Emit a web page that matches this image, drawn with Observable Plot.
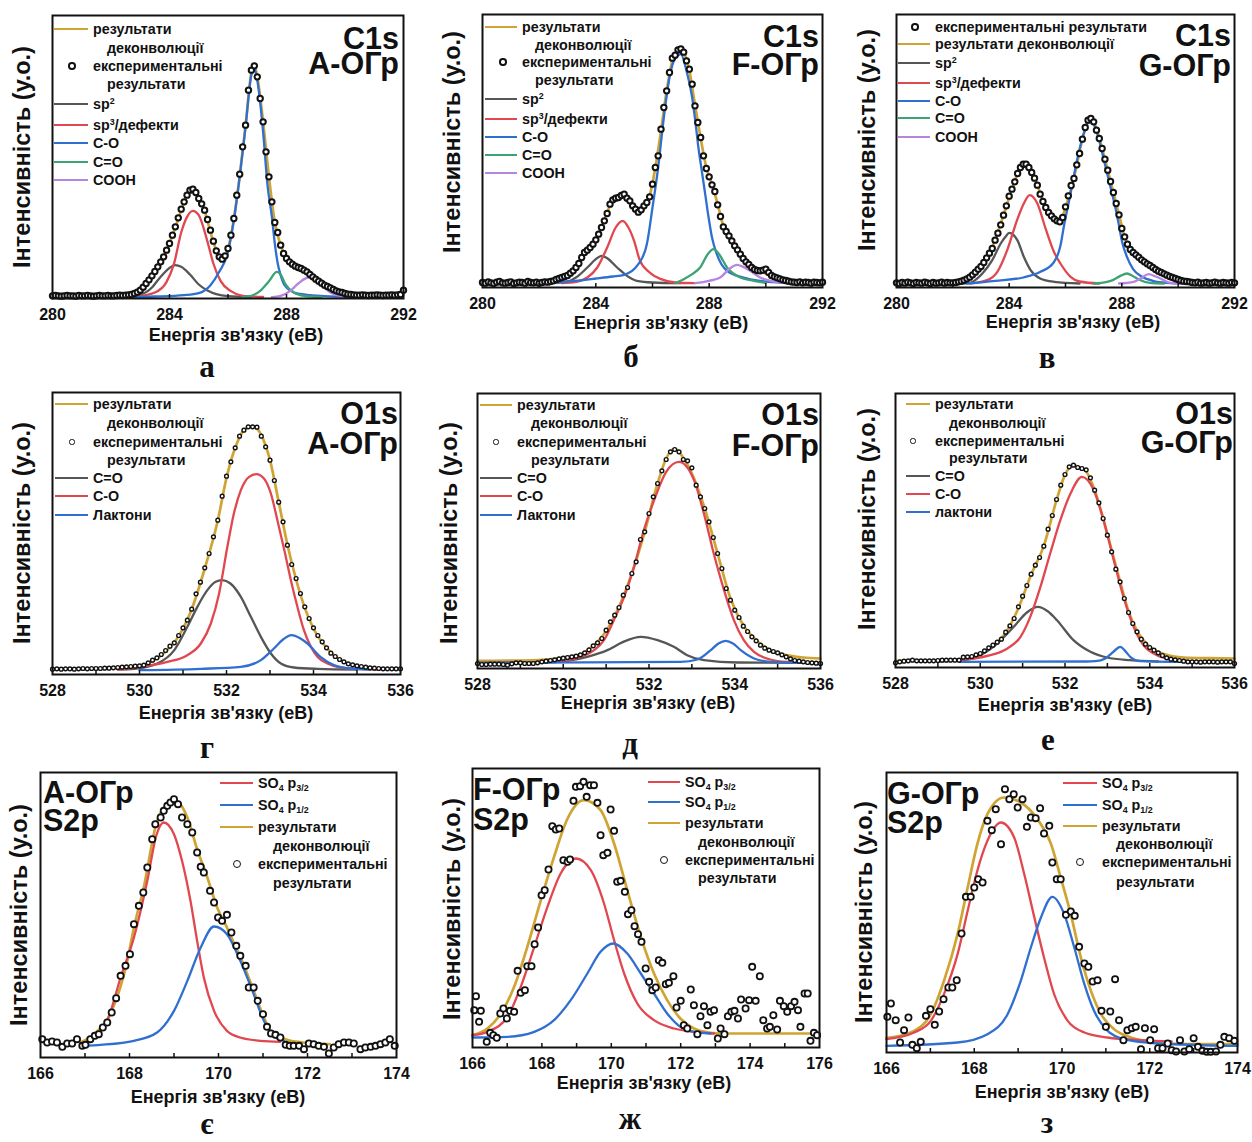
<!DOCTYPE html>
<html><head><meta charset="utf-8">
<script src="https://cdn.jsdelivr.net/npm/d3@7"></script>
<script src="https://cdn.jsdelivr.net/npm/@observablehq/plot@0.6"></script>
<style>
body{margin:0;background:#fff;}
#root{position:relative;width:1252px;height:1142px;overflow:hidden;font-family:"Liberation Sans",Arial,sans-serif;font-weight:bold;color:#111;}
.t{position:absolute;white-space:nowrap;line-height:1;}
.sup{font-size:0.62em;position:relative;top:-0.55em;}
.sub{font-size:0.62em;position:relative;top:0.3em;}
svg{overflow:visible;}
</style></head><body><div id="root"></div><script>
// ---------- DATA (intensities in arbitrary units, energies in eV) ----------
const c1sTicks = [280, 284, 288, 292];
const o1sTicks = [528, 530, 532, 534, 536];
const s2pTicksA = [166, 168, 170, 172, 174];
const s2pTicksF = [166, 168, 170, 172, 174, 176];
const c1sMinor = [282, 284, 286, 288, 290];
const o1sMinor = [529, 530, 531, 532, 533, 534, 535];
const s2pMinorA = [167, 168, 169, 170, 171, 172, 173];
const s2pMinorF = [167, 168, 169, 170, 171, 172, 173, 174, 175];

const c1sEnergy = [280,280.1,280.2,280.3,280.4,280.5,280.6,280.7,280.8,280.9,
281,281.1,281.2,281.3,281.4,281.5,281.6,281.7,281.8,281.9,
282,282.1,282.2,282.3,282.4,282.5,282.6,282.7,282.8,282.9,
283,283.1,283.2,283.3,283.4,283.5,283.6,283.7,283.8,283.9,
284,284.1,284.2,284.3,284.4,284.5,284.6,284.7,284.8,284.9,
285,285.1,285.2,285.3,285.4,285.5,285.6,285.7,285.8,285.9,
286,286.1,286.2,286.3,286.4,286.5,286.6,286.7,286.8,286.9,
287,287.1,287.2,287.3,287.4,287.5,287.6,287.7,287.8,287.9,
288,288.1,288.2,288.3,288.4,288.5,288.6,288.7,288.8,288.9,
289,289.1,289.2,289.3,289.4,289.5,289.6,289.7,289.8,289.9,
290,290.1,290.2,290.3,290.4,290.5,290.6,290.7,290.8,290.9,
291,291.1,291.2,291.3,291.4,291.5,291.6,291.7,291.8,291.9,292];

const o1sEnergy = [528,528.1,528.2,528.3,528.4,528.5,528.6,528.7,528.8,528.9,
529,529.1,529.2,529.3,529.4,529.5,529.6,529.7,529.8,529.9,
530,530.1,530.2,530.3,530.4,530.5,530.6,530.7,530.8,530.9,
531,531.1,531.2,531.3,531.4,531.5,531.6,531.7,531.8,531.9,
532,532.1,532.2,532.3,532.4,532.5,532.6,532.7,532.8,532.9,
533,533.1,533.2,533.3,533.4,533.5,533.6,533.7,533.8,533.9,
534,534.1,534.2,534.3,534.4,534.5,534.6,534.7,534.8,534.9,
535,535.1,535.2,535.3,535.4,535.5,535.6,535.7,535.8,535.9,536];

// C1s experimental
const expA_C1s = [8,9,8,7,8,9,8,8,7,9,8,8,9,8,7,8,9,8,8,9,8,8,9,10,9,10,
11,12,15,19,25,34,45,56,68,81,95,110,125,145,
165,190,215,242,268,290,310,325,328,318,
300,284,265,237,205,172,143,125,118,128,
150,190,240,310,373,455,520,625,685,698,
665,600,530,440,365,290,228,198,160,135,
120,110,103,97,93,90,85,80,72,65,
58,52,46,40,36,32,27,23,20,18,
15,13,12,11,10,10,11,10,9,10,10,11,10,9,10,10,11,10,11,12,25];
const expF_C1s = [15,13,17,14,12,16,18,14,13,15,17,12,14,16,15,13,18,15,14,16,13,15,17,16,18,20,
24,27,30,33,36,43,50,60,72,90,105,112,120,130,
143,160,180,200,222,250,263,268,270,276,
280,268,260,245,235,226,233,245,255,272,
310,360,395,475,540,590,645,688,697,713,
716,706,680,655,610,545,495,450,395,357,
332,308,288,248,213,182,168,155,140,125,
113,100,87,77,69,60,54,51,50,52,
55,45,36,32,29,26,23,21,19,17,16,15,17,14,16,15,13,16,15,14,16];
const expG_C1s = [14,12,15,13,16,14,12,15,14,13,16,14,12,15,13,14,16,13,15,14,
14,15,17,19,22,26,31,38,46,55,
63,75,89,103,117,142,163,188,217,245,
274,295,317,342,360,370,370,360,345,328,
307,280,258,240,225,215,206,200,197,210,
242,275,306,327,368,402,445,480,502,507,
497,472,447,417,385,352,318,285,252,218,
177,152,130,114,105,98,91,83,77,71,
66,60,54,49,45,41,37,33,30,27,
24,21,19,18,17,15,14,16,13,14,15,13,14,16,14,13,15,14,13,15,14];

// C1s fitted curves [energy, intensity]
const envA_C1s = [[280,7],[282.5,8],[282.8,14],[283.0,24],[283.3,54],[283.6,93],[283.9,143],[284.2,213],[284.5,288],[284.7,322],[284.8,325],[284.95,312],[285.2,262],[285.5,170],[285.7,125],[285.85,117],[286.0,148],[286.2,238],[286.4,368],[286.6,518],[286.8,678],[286.9,700],[287.0,665],[287.2,530],[287.4,365],[287.6,228],[287.8,160],[288.0,120],[288.3,97],[288.6,85],[288.9,65],[289.2,46],[289.5,32],[289.8,20],[290.2,12],[292,9]];
const sp2A_C1s = [[282.4,5],[283.0,12],[283.4,33],[283.6,55],[283.8,75],[284.0,92],[284.2,100],[284.4,95],[284.7,72],[285.0,42],[285.3,24],[285.6,13],[286.0,7],[286.8,5]];
const sp3A_C1s = [[282.8,5],[283.5,18],[283.9,50],[284.15,103],[284.4,198],[284.6,245],[284.8,263],[285.0,250],[285.3,170],[285.5,105],[285.75,52],[286.1,22],[286.5,8],[287.2,5]];
const coA_C1s = [[282.5,4],[283.5,6],[284.5,10],[285.0,16],[285.4,40],[285.7,80],[286.0,140],[286.2,235],[286.4,365],[286.6,515],[286.8,672],[286.9,692],[287.0,655],[287.2,500],[287.35,340],[287.5,245],[287.6,165],[287.7,105],[287.8,70],[287.9,45],[288.0,33],[288.25,18],[288.7,11],[289.3,7],[290.3,4]];
const cdoA_C1s = [[286.5,4],[286.8,8],[287.1,23],[287.4,52],[287.67,80],[287.8,72],[287.96,43],[288.25,18],[288.6,8],[289.2,4]];
const coohA_C1s = [[287.5,4],[287.8,8],[288.13,23],[288.4,45],[288.76,63],[289.0,55],[289.16,43],[289.5,18],[289.84,8],[290.3,4]];

const envF_C1s = [[280,15],[282.5,20],[283.0,36],[283.3,60],[283.6,100],[283.9,132],[284.2,180],[284.5,245],[284.8,272],[285.0,278],[285.2,262],[285.5,228],[285.7,243],[285.9,275],[286.1,360],[286.3,470],[286.5,590],[286.7,680],[286.9,712],[287.0,716],[287.1,706],[287.3,650],[287.5,548],[287.7,448],[287.9,360],[288.1,310],[288.3,250],[288.5,185],[288.8,142],[289.1,102],[289.4,70],[289.7,52],[290.0,42],[290.4,28],[290.8,19],[292,15]];
const sp2F_C1s = [[282.3,13],[283.0,18],[283.3,30],[283.7,60],[284.0,85],[284.2,95],[284.4,88],[284.75,60],[285.1,35],[285.45,20],[286.0,15],[287.0,13]];
const sp3F_C1s = [[282.8,13],[283.3,17],[283.7,30],[284.05,60],[284.4,120],[284.7,180],[284.95,200],[285.15,180],[285.35,140],[285.55,82],[285.9,45],[286.3,25],[286.8,15],[287.5,13]];
const coF_C1s = [[282.0,12],[283.0,18],[284.0,27],[284.6,33],[285.0,38],[285.5,70],[285.8,130],[286.0,240],[286.2,360],[286.4,510],[286.6,630],[286.8,688],[287.0,700],[287.2,650],[287.4,570],[287.51,500],[287.62,420],[287.74,350],[287.86,280],[287.98,210],[288.1,150],[288.27,100],[288.63,50],[289.21,30],[289.8,20],[290.5,15],[291.0,13]];
const cdoF_C1s = [[286.8,13],[287.1,25],[287.4,40],[287.68,60],[287.95,100],[288.15,115],[288.35,100],[288.63,60],[289.1,30],[289.57,20],[290.0,14]];
const coohF_C1s = [[287.5,13],[288.0,20],[288.39,30],[288.7,55],[288.98,68],[289.2,62],[289.45,50],[289.8,30],[290.15,20],[290.6,14]];

const envG_C1s = [[280,14],[282.0,15],[282.5,26],[282.9,55],[283.2,89],[283.5,142],[283.8,217],[284.1,295],[284.4,360],[284.55,371],[284.7,360],[285.0,307],[285.3,240],[285.6,206],[285.8,198],[286.0,240],[286.3,330],[286.6,445],[286.8,502],[286.9,507],[287.0,497],[287.3,417],[287.6,318],[287.9,218],[288.1,152],[288.3,114],[288.6,91],[289.0,66],[289.4,45],[289.8,30],[290.2,19],[290.6,14],[292,14]];
const sp2G_C1s = [[282.3,12],[282.6,14],[283.05,42],[283.4,82],[283.7,132],[283.87,152],[284.0,164],[284.15,158],[284.29,142],[284.52,92],[284.76,52],[285.1,27],[285.6,17],[286.5,12]];
const sp3G_C1s = [[282.6,12],[283.22,22],[283.58,47],[283.93,112],[284.28,202],[284.52,252],[284.73,277],[285.0,252],[285.3,175],[285.6,105],[285.82,72],[286.18,32],[286.5,18],[287.2,12]];
const coG_C1s = [[282.5,12],[283.5,20],[284.5,30],[285.11,47],[285.58,75],[285.82,125],[285.94,182],[286.18,282],[286.41,382],[286.65,462],[286.88,502],[287.0,490],[287.2,440],[287.4,370],[287.6,300],[287.8,228],[287.9,185],[288.0,140],[288.2,88],[288.4,55],[288.7,33],[289.1,20],[289.6,14],[290.3,12]];
const cdoG_C1s = [[287.0,12],[287.47,17],[287.7,23],[287.95,35],[288.18,42],[288.4,34],[288.6,24],[289.0,14],[289.5,12]];
const coohG_C1s = [[287.9,12],[288.42,17],[288.66,27],[288.95,40],[289.2,33],[289.37,27],[289.72,14],[290.2,12]];

// O1s experimental
const expA_O1s = [16,17,16,17,17,16,17,18,17,18,
18,18,19,19,20,21,22,23,24,25,
26,28,35,43,50,60,72,85,95,117,
140,163,196,242,277,320,363,413,463,535,
595,638,680,715,733,743,743,742,715,683,
643,582,517,458,388,330,288,243,203,168,
140,117,98,80,64,54,45,38,32,29,
26,24,22,20,19,18,17,17,17,17,17];
const expF_O1s = [15,12,12,13,13,13,12,10,14,17,
17,15,15,15,17,20,22,24,26,29,
31,33,35,37,41,47,56,68,77,90,
115,140,160,183,220,243,285,320,387,410,
465,515,555,593,627,650,657,650,627,623,
602,550,515,480,440,393,345,300,240,205,
175,153,127,111,95,83,70,61,55,51,
47,41,35,29,24,22,20,18,17,16,15];
const expG_O1s = [14,17,19,20,22,20,20,20,20,20,
21,22,22,22,22,22,31,32,33,38,
42,50,59,67,76,85,106,125,147,182,
214,246,280,307,330,364,415,456,504,547,
579,602,607,600,597,593,569,532,494,447,
397,347,295,257,207,165,132,107,85,70,
60,52,44,36,29,25,23,21,19,17,
17,17,16,17,17,17,16,17,17,17,12];

// O1s fitted curves
const envA_O1s = [[528,17],[529.5,21],[530.0,26],[530.3,40],[530.6,68],[530.9,115],[531.2,196],[531.5,318],[531.8,462],[532.0,590],[532.2,680],[532.4,733],[532.6,745],[532.8,718],[533.0,643],[533.2,518],[533.4,390],[533.6,285],[533.8,200],[534.0,138],[534.3,80],[534.6,45],[535.0,26],[535.5,18],[536,17]];
const cdoA_O1s = [[529.5,15],[529.88,17],[530.41,33],[530.8,73],[531.1,143],[531.33,203],[531.56,253],[531.75,278],[531.9,283],[532.09,273],[532.33,233],[532.56,173],[532.79,113],[533.02,63],[533.25,33],[533.55,21],[534.09,17],[535,15]];
const coA_O1s = [[529.5,15],[530.03,23],[530.64,38],[531.1,58],[531.41,93],[531.64,153],[531.83,243],[532.02,383],[532.17,483],[532.33,553],[532.52,593],[532.69,601],[532.86,588],[533.02,543],[533.17,463],[533.33,373],[533.48,283],[533.63,203],[533.78,133],[533.94,83],[534.09,53],[534.32,33],[534.62,21],[535.0,17],[535.5,15]];
const lacA_O1s = [[530.0,13],[531.41,17],[532.33,23],[532.79,43],[533.09,78],[533.3,105],[533.49,118],[533.7,108],[533.86,93],[534.16,53],[534.47,28],[534.85,18],[535.3,15]];

const envF_O1s = [[528,23],[529,24],[529.5,26],[530.0,33],[530.4,42],[530.7,68],[531.0,112],[531.3,185],[531.6,285],[531.9,410],[532.2,555],[532.4,630],[532.6,660],[532.8,632],[533.0,585],[533.3,480],[533.6,345],[533.9,210],[534.2,130],[534.5,85],[534.8,57],[535.2,40],[535.6,33],[536,30]];
const cdoF_O1s = [[528,17],[529.5,18],[530.1,23],[530.56,35],[531.03,55],[531.4,80],[531.81,95],[532.2,85],[532.58,65],[532.89,40],[533.28,25],[534.06,18],[536,17]];
const coF_O1s = [[528,17],[529.5,19],[530.02,23],[530.41,35],[530.72,55],[530.95,85],[531.18,145],[531.42,215],[531.65,305],[531.88,415],[532.12,505],[532.4,590],[532.7,620],[533.05,565],[533.28,465],[533.51,345],[533.75,235],[533.98,145],[534.21,85],[534.45,50],[534.83,27],[535.22,20],[536,17]];
const lacF_O1s = [[528,17],[532.74,20],[533.13,27],[533.44,55],[533.62,75],[533.79,83],[533.96,75],[534.14,55],[534.45,30],[534.83,20],[535.5,17]];

const envG_O1s = [[528,20],[529,21],[529.5,24],[530.0,40],[530.3,65],[530.6,104],[530.9,178],[531.2,278],[531.5,365],[531.8,502],[532.0,578],[532.2,607],[532.35,600],[532.5,588],[532.7,532],[533.0,400],[533.3,258],[533.5,168],[533.7,110],[534.0,62],[534.4,38],[534.8,30],[535.4,28],[536,27]];
const cdoG_O1s = [[529.0,18],[529.61,22],[530.0,37],[530.4,72],[530.79,122],[531.1,165],[531.36,182],[531.6,168],[531.81,142],[532.2,82],[532.6,47],[532.99,30],[533.54,22],[534.2,18]];
const coG_O1s = [[529.0,20],[529.85,27],[530.24,37],[530.64,57],[530.95,92],[531.18,152],[531.42,242],[531.65,342],[531.89,442],[532.13,522],[532.4,572],[532.68,532],[532.91,442],[533.15,322],[533.38,212],[533.62,122],[533.85,67],[534.17,37],[534.56,24],[534.95,19],[535.5,17]];
const lacG_O1s = [[529.5,17],[532.5,18],[532.72,19],[532.95,27],[533.15,48],[533.3,62],[533.45,45],[533.54,32],[533.78,19],[534.5,17],[536,17]];

// S2p experimental
const expA_S2p_x = [166.04,166.15,166.26,166.37,166.49,166.6,166.71,166.82,166.94,167.01,
167.12,167.22,167.31,167.4,167.5,167.6,167.7,167.8,167.91,168.01,
168.1,168.21,168.31,168.4,168.51,168.58,168.7,168.77,168.85,168.92,
169.0,169.09,169.18,169.3,169.41,169.52,169.6,169.67,169.81,169.9,
169.99,170.08,170.19,170.29,170.4,170.49,170.61,170.68,170.79,170.88,
171.0,171.09,171.18,171.28,171.39,171.51,171.6,171.69,171.81,171.92,
172.03,172.14,172.25,172.37,172.48,172.59,172.7,172.82,172.93,
173.04,173.19,173.3,173.42,173.53,173.64,173.75,173.85,173.96];
const expA_S2p_y = [55,45,48,45,32,42,42,55,35,38,
55,65,70,90,105,135,178,245,275,310,
400,455,495,570,655,700,720,740,755,765,
775,760,720,700,675,615,572,555,500,465,
420,410,428,375,335,305,275,210,210,170,
130,92,72,68,60,38,35,35,35,25,
42,40,35,32,12,30,40,45,45,
42,25,30,32,35,40,45,55,35];
const expF_S2p_x = [166.05,166.1,166.19,166.24,166.41,166.51,166.6,166.7,166.8,166.89,
166.99,167.08,167.2,167.3,167.39,167.51,167.58,167.7,167.79,167.89,
167.99,168.08,168.19,168.3,168.4,168.5,168.62,168.74,168.81,168.91,
168.98,169.1,169.2,169.29,169.39,169.5,169.6,169.69,169.77,169.89,
169.98,170.08,170.17,170.27,170.39,170.48,170.58,170.67,170.77,170.87,
170.99,171.09,171.18,171.28,171.37,171.47,171.57,171.66,171.79,171.88,
172.0,172.09,172.19,172.29,172.38,172.48,172.57,172.67,172.77,172.86,
172.96,173.07,173.15,173.26,173.36,173.46,173.55,173.65,173.74,173.87,
173.97,174.06,174.16,174.28,174.38,174.49,174.57,174.67,174.78,174.86,
174.97,175.07,175.18,175.28,175.38,175.45,175.57,175.66,175.74,175.84,175.93];
const expF_S2p_y = [112,154,77,110,17,44,37,29,102,117,
87,110,107,230,164,172,244,244,310,360,
457,472,534,664,654,657,562,557,564,740,
782,784,797,752,787,787,734,637,577,584,
714,650,497,500,467,400,412,364,340,317,
237,197,172,180,262,254,190,194,214,120,
140,67,57,174,127,40,94,124,67,107,
112,27,57,40,94,107,110,87,144,117,
142,242,140,214,82,57,62,97,54,140,
124,107,124,137,112,62,162,162,20,44,37];
const expG_S2p_x = [166.02,166.1,166.21,166.31,166.4,166.5,166.59,166.69,166.78,166.9,
167.0,167.1,167.2,167.3,167.41,167.5,167.6,167.71,167.81,167.92,
168.0,168.09,168.19,168.3,168.4,168.49,168.61,168.7,168.8,168.9,
168.99,169.1,169.2,169.29,169.4,169.5,169.59,169.71,169.78,169.88,
169.97,170.09,170.2,170.29,170.39,170.51,170.6,170.7,170.81,170.9,
171.0,171.1,171.21,171.3,171.4,171.49,171.59,171.68,171.8,171.89,
172.01,172.1,172.19,172.29,172.41,172.5,172.6,172.69,172.79,172.9,
173.0,173.1,173.2,173.3,173.39,173.51,173.61,173.7,173.81,173.93];
const expG_S2p_y = [107,147,97,30,67,105,23,13,32,110,
130,83,123,160,195,195,217,357,467,467,
495,520,510,695,667,730,625,790,760,775,
735,760,677,705,703,733,657,680,570,520,
520,413,423,410,317,267,257,213,217,125,
77,123,220,97,37,67,73,77,10,73,
37,70,13,13,27,7,3,37,3,10,
43,17,5,2,2,3,23,47,43,35];

// S2p fitted curves
const envA_S2p = [[166.9,45],[167.2,70],[167.6,140],[167.95,290],[168.1,390],[168.32,510],[168.62,710],[168.9,765],[169.05,770],[169.3,720],[169.52,625],[169.75,540],[169.97,450],[170.19,390],[170.34,345],[170.56,280],[170.79,200],[171.02,120],[171.17,80],[171.5,55],[171.9,45],[172.2,42],[172.5,40]];
const p32A_S2p = [[166.97,42],[167.2,60],[167.5,110],[167.8,240],[168.1,360],[168.4,530],[168.6,665],[168.77,705],[169.0,670],[169.18,590],[169.37,470],[169.52,350],[169.67,240],[169.9,140],[170.19,80],[170.49,60],[170.94,50],[171.39,47]];
const p12A_S2p = [[166.97,35],[167.35,38],[168.1,50],[168.62,75],[169.0,140],[169.3,230],[169.6,330],[169.9,393],[170.19,370],[170.49,290],[170.79,190],[171.02,110],[171.24,65],[171.47,50]];

const envF_S2p = [[166,37],[166.43,57],[166.82,102],[167.2,182],[167.58,302],[167.97,442],[168.35,572],[168.74,687],[169.21,742],[169.69,712],[170.08,612],[170.46,472],[170.85,332],[171.23,222],[171.61,142],[171.99,87],[172.38,57],[172.86,44],[173.15,42],[176,42]];
const p32F_S2p = [[166,37],[166.43,47],[167.01,92],[167.39,182],[167.78,302],[168.16,422],[168.54,522],[168.98,567],[169.41,532],[169.79,432],[170.08,322],[170.37,222],[170.75,132],[171.23,82],[171.81,57],[172.38,47],[172.96,42]];
const p12F_S2p = [[166,30],[167.01,32],[167.78,47],[168.35,82],[168.83,142],[169.31,222],[169.69,287],[170.06,312],[170.46,282],[170.85,222],[171.23,162],[171.61,102],[171.99,62],[172.38,47],[172.86,42]];

const envG_S2p = [[166,43],[166.63,65],[167.01,115],[167.31,215],[167.62,355],[167.85,495],[168.07,625],[168.3,715],[168.68,765],[169.06,750],[169.44,700],[169.75,625],[169.97,525],[170.2,415],[170.43,285],[170.66,185],[170.89,115],[171.19,70],[171.57,45],[172.18,30],[172.94,25],[174,25]];
const p32G_S2p = [[166,40],[166.63,60],[167.01,95],[167.31,175],[167.62,295],[167.85,425],[168.07,545],[168.3,635],[168.61,690],[168.91,645],[169.14,535],[169.37,405],[169.59,285],[169.82,175],[170.13,95],[170.51,60],[171.04,45],[171.8,37],[172.5,33]];
const p12G_S2p = [[166,20],[167.62,30],[168.3,55],[168.76,115],[169.06,215],[169.29,315],[169.52,405],[169.78,467],[170.05,415],[170.28,315],[170.51,205],[170.73,125],[171.04,65],[171.42,40],[172.18,27],[174,20]];

// Text labels
const yLabel = "Інтенсивність (у.о.)";
const xLabel = "Енергія зв'язку (еВ)";
const panelLetters = ["а","б","в","г","д","е","є","ж","з"];

// ---------- STYLE ----------
const GOLD="#cfa432", GRAY="#565656", RED="#e0474f", BLUE="#2f6fd0", GREEN="#3ca374", PURPLE="#b685e2";
const root = document.getElementById("root");
const FONT = '"Liberation Sans", Arial, sans-serif';

function txt(html, x, y, size, o = {}) {
  const d = document.createElement("div");
  d.className = "t";
  if (o.pre) { d.style.whiteSpace = "pre"; d.textContent = html; }
  else d.innerHTML = html;
  d.style.left = x + "px"; d.style.top = y + "px";
  d.style.fontSize = size + "px";
  if (o.lh) d.style.lineHeight = o.lh;
  if (o.align) d.style.textAlign = o.align;
  if (o.serif) d.style.fontFamily = '"Liberation Serif","Times New Roman",serif';
  const ax = o.anchor === "middle" ? "-50%" : o.anchor === "end" ? "-100%" : "0";
  d.style.transform = `translate(${ax},-50%)` + (o.rotate ? " rotate(-90deg)" : "");
  root.appendChild(d);
}
function swatch(x1, x2, y, color) {
  const d = document.createElement("div");
  d.style.cssText = `position:absolute;left:${x1}px;top:${y-1.3}px;width:${x2-x1}px;height:2.6px;background:${color}`;
  root.appendChild(d);
}
function marker(cx, cy, r, sw) {
  const o = r + sw/2;
  const d = document.createElement("div");
  d.style.cssText = `position:absolute;box-sizing:border-box;left:${cx-o}px;top:${cy-o}px;width:${2*o}px;height:${2*o}px;border:${sw}px solid #111;border-radius:50%;background:#fff`;
  root.appendChild(d);
}

function panel(p) {
  const mL = 26, mR = 26, mT = 4, mB = 40;
  const H = (p.B - p.T) * 3;
  const marks = [];
  for (const [data, color, w] of p.lines) {
    marks.push(Plot.line(data, {curve: "monotone-x", stroke: color, strokeWidth: w}));
  }
  marks.push(Plot.dot(d3.zip(p.ex, p.ey), {r: p.r, stroke: "#111", strokeWidth: p.sw, fill: "white"}));
  marks.push(Plot.ruleX(p.minor, {x: d => d, y1: 0, y2: 12, stroke: "#111", strokeWidth: 1.5}));
  marks.push(Plot.frame({stroke: "#111", strokeWidth: 2}));
  marks.push(Plot.axisX({ticks: p.ticks, tickSize: 0, tickPadding: 10, tickFormat: d => String(d), label: null, fontSize: 16, fontWeight: "bold"}));
  const svg = Plot.plot({
    width: p.R - p.L + mL + mR, height: p.B - p.T + mT + mB,
    marginLeft: mL, marginRight: mR, marginTop: mT, marginBottom: mB,
    x: {domain: p.xd}, y: {domain: [0, H], axis: null},
    style: {fontFamily: FONT, fontSize: "16px", fontWeight: "bold", color: "#111", background: "transparent"},
    marks
  });
  svg.style.position = "absolute";
  svg.style.left = (p.L - mL) + "px";
  svg.style.top = (p.T - mT) + "px";
  root.appendChild(svg);

  // axis titles, panel letter, panel title (two lines in one text node)
  txt(yLabel, p.yl[0], p.yl[1], 23.5, {anchor: "middle", rotate: true});
  txt(xLabel, p.xl[0], p.xl[1], 18, {anchor: "middle"});
  txt(p.letter, p.lt[0], p.lt[1], 31, {anchor: "middle", serif: true, lh: 0.6});
  const gap = p.ty[1] - p.ty[0];
  txt(p.title.join("\n"), p.tx, (p.ty[0] + p.ty[1]) / 2, 30.5,
      {pre: true, anchor: p.tAnchor, lh: gap + "px", align: p.tAnchor === "end" ? "right" : "left"});

  // legend
  const g = p.leg;
  g.rows.forEach(([y, kind, html]) => {
    if (kind === "dot") marker(g.mx, y, p.r, p.sw);
    else if (kind && kind !== "indent") swatch(g.x1, g.x2, y, kind);
    txt(html, kind === "indent" ? g.ix : g.tx, y, 14.3, {lh: 0.9});
  });
}

const SUP = s => `<span class="sup">${s}</span>`;
const SUB = s => `<span class="sub">${s}</span>`;
const so4 = q => `SO${SUB("4")} p${SUB(q)}`;

function c1sRows(ys, first) {
  const a = first === "exp"
    ? [[ys[0], "dot", "експериментальні результати"], [ys[1], GOLD, "результати деконволюції"]]
    : [[ys[0], GOLD, "результати"], [ys[1], "indent", "деконволюції"], [ys[2], "dot", "експериментальні"], [ys[3], "indent", "результати"]];
  const k = a.length;
  return a.concat([[ys[k], GRAY, "sp" + SUP("2")], [ys[k+1], RED, "sp" + SUP("3") + "/дефекти"], [ys[k+2], BLUE, "C-O"], [ys[k+3], GREEN, "C=O"], [ys[k+4], PURPLE, "COOH"]]);
}
function o1sRows(ys, lac) {
  return [[ys[0], GOLD, "результати"], [ys[1], "indent", "деконволюції"], [ys[2], "dot", "експериментальні"], [ys[3], "indent", "результати"], [ys[4], GRAY, "C=O"], [ys[5], RED, "C-O"], [ys[6], BLUE, lac]];
}
function s2pRows(ys) {
  return [[ys[0], RED, so4("3/2")], [ys[1], BLUE, so4("1/2")], [ys[2], GOLD, "результати"], [ys[3], "indent", "деконволюції"], [ys[4], "dot", "експериментальні"], [ys[5], "indent", "результати"]];
}

const LW = 2.3, EW = 2.7;
panel({L:52,R:403,T:15,B:298, xd:[280,292], ticks:c1sTicks, minor:c1sMinor, ex:c1sEnergy, ey:expA_C1s, r:2.7, sw:2,
  lines:[[envA_C1s,GOLD,EW],[sp2A_C1s,GRAY,LW],[sp3A_C1s,RED,LW],[coA_C1s,BLUE,LW],[cdoA_C1s,GREEN,LW],[coohA_C1s,PURPLE,LW]],
  yl:[23,157], xl:[236,335], letter:panelLetters[0], lt:[207,367], title:["C1s","A-ОГр"], tx:399, ty:[38,63], tAnchor:"end",
  leg:{x1:54,x2:88,tx:93,ix:107,mx:72, rows:c1sRows([29,48,66,84,104,125,143,162,180])}});
panel({L:482,R:822,T:14,B:287, xd:[280,292], ticks:c1sTicks, minor:c1sMinor, ex:c1sEnergy, ey:expF_C1s, r:2.7, sw:2,
  lines:[[envF_C1s,GOLD,EW],[sp2F_C1s,GRAY,LW],[sp3F_C1s,RED,LW],[coF_C1s,BLUE,LW],[cdoF_C1s,GREEN,LW],[coohF_C1s,PURPLE,LW]],
  yl:[453,142], xl:[661,323], letter:panelLetters[1], lt:[631,357], title:["C1s","F-ОГр"], tx:819, ty:[36,64], tAnchor:"end",
  leg:{x1:485,x2:517,tx:522,ix:535,mx:503, rows:c1sRows([27,45,62,80,99,119,137,155,173])}});
panel({L:896,R:1234,T:14,B:287, xd:[280,292], ticks:c1sTicks, minor:c1sMinor, ex:c1sEnergy, ey:expG_C1s, r:2.7, sw:2,
  lines:[[envG_C1s,GOLD,EW],[sp2G_C1s,GRAY,LW],[sp3G_C1s,RED,LW],[coG_C1s,BLUE,LW],[cdoG_C1s,GREEN,LW],[coohG_C1s,PURPLE,LW]],
  yl:[868,140], xl:[1073,322], letter:panelLetters[2], lt:[1047,358], title:["C1s","G-ОГр"], tx:1231, ty:[35,65], tAnchor:"end",
  leg:{x1:898,x2:930,tx:935,ix:935,mx:915, rows:c1sRows([27,44,63,83,101,118,137], "exp")}});

panel({L:52,R:400,T:392,B:674, xd:[528,536], ticks:o1sTicks, minor:o1sMinor, ex:o1sEnergy, ey:expA_O1s, r:1.9, sw:1.4,
  lines:[[envA_O1s,GOLD,EW],[cdoA_O1s,GRAY,LW],[coA_O1s,RED,LW],[lacA_O1s,BLUE,LW]],
  yl:[23,533], xl:[226,713], letter:panelLetters[3], lt:[207,748], title:["O1s","A-ОГр"], tx:398, ty:[413,443], tAnchor:"end",
  leg:{x1:55,x2:88,tx:93,ix:107,mx:72, rows:o1sRows([404,423,442,460,478,496,515], "Лактони")}});
panel({L:477,R:820,T:393,B:668, xd:[528,536], ticks:o1sTicks, minor:o1sMinor, ex:o1sEnergy, ey:expF_O1s, r:1.9, sw:1.4,
  lines:[[envF_O1s,GOLD,EW],[cdoF_O1s,GRAY,LW],[coF_O1s,RED,LW],[lacF_O1s,BLUE,LW]],
  yl:[450,533], xl:[648,703], letter:panelLetters[4], lt:[630,744], title:["O1s","F-ОГр"], tx:819, ty:[414,445], tAnchor:"end",
  leg:{x1:480,x2:512,tx:517,ix:531,mx:496, rows:o1sRows([405,423,442,460,478,496,515], "Лактони")}});
panel({L:895,R:1234,T:393,B:667, xd:[528,536], ticks:o1sTicks, minor:o1sMinor, ex:o1sEnergy, ey:expG_O1s, r:1.9, sw:1.4,
  lines:[[envG_O1s,GOLD,EW],[cdoG_O1s,GRAY,LW],[coG_O1s,RED,LW],[lacG_O1s,BLUE,LW]],
  yl:[868,519], xl:[1065,705], letter:panelLetters[5], lt:[1048,740], title:["O1s","G-ОГр"], tx:1233, ty:[413,442], tAnchor:"end",
  leg:{x1:906,x2:930,tx:935,ix:949,mx:913, rows:o1sRows([404,423,441,458,476,494,512], "лактони")}});

panel({L:40,R:396,T:772,B:1057, xd:[166,174], ticks:s2pTicksA, minor:s2pMinorA, ex:expA_S2p_x, ey:expA_S2p_y, r:3.1, sw:1.8,
  lines:[[envA_S2p,GOLD,EW],[p32A_S2p,RED,LW],[p12A_S2p,BLUE,LW]],
  yl:[20,915], xl:[218,1097], letter:panelLetters[6], lt:[207,1124], title:["A-ОГр","S2p"], tx:43, ty:[792,820], tAnchor:"start",
  leg:{x1:220,x2:253,tx:258,ix:273,mx:237, rows:s2pRows([783,805,827,846,864,883])}});
panel({L:472,R:819,T:768,B:1047, xd:[166,176], ticks:s2pTicksF, minor:s2pMinorF, ex:expF_S2p_x, ey:expF_S2p_y, r:3.1, sw:1.8,
  lines:[[envF_S2p,GOLD,EW],[p32F_S2p,RED,LW],[p12F_S2p,BLUE,LW]],
  yl:[453,909], xl:[644,1083], letter:panelLetters[7], lt:[630,1119], title:["F-ОГр","S2p"], tx:473, ty:[789,819], tAnchor:"start",
  leg:{x1:648,x2:680,tx:685,ix:698,mx:664, rows:s2pRows([782,802,823,842,860,878])}});
panel({L:886,R:1237,T:772,B:1052, xd:[166,174], ticks:s2pTicksA, minor:s2pMinorA, ex:expG_S2p_x, ey:expG_S2p_y, r:3.1, sw:1.8,
  lines:[[envG_S2p,GOLD,EW],[p32G_S2p,RED,LW],[p12G_S2p,BLUE,LW]],
  yl:[865,912], xl:[1062,1092], letter:panelLetters[8], lt:[1047,1123], title:["G-ОГр","S2p"], tx:887, ty:[793,822], tAnchor:"start",
  leg:{x1:1063,x2:1097,tx:1102,ix:1116,mx:1080, rows:s2pRows([783,805,826,844,862,882])}});
</script></body></html>
